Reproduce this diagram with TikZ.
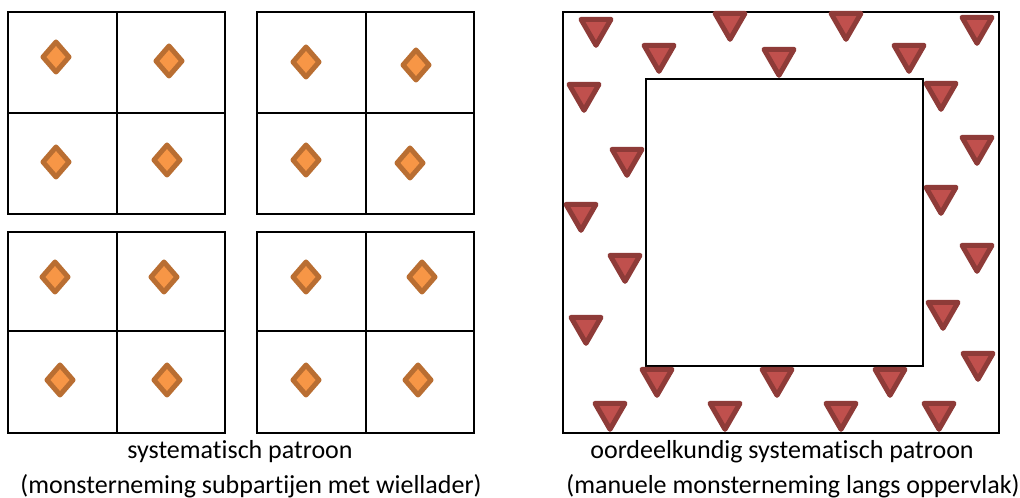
\documentclass[tikz,border=0pt]{standalone}
\usepackage{fontspec}
\setmainfont{Carlito}[Ligatures=NoCommon]
\usetikzlibrary{shapes.geometric}
\definecolor{dfill}{HTML}{F79646}
\definecolor{dline}{HTML}{B96E32}
\definecolor{tfill}{HTML}{C0504D}
\definecolor{tline}{HTML}{8E3B38}
\begin{document}
\begin{tikzpicture}[x=0.75pt,y=-0.75pt]
      \useasboundingbox (0,0) rectangle (1020,498);

      \begin{scope}[line width=1.5pt]
        % subpartijen
        \draw (8,12) rectangle (225,214);   \draw (117,12) -- (117,214);  \draw (8,113) -- (225,113);
        \draw (257,12) rectangle (474,214); \draw (366,12) -- (366,214);  \draw (257,113) -- (474,113);
        \draw (8,232) rectangle (225,433);  \draw (117,232) -- (117,433); \draw (8,331) -- (225,331);
        \draw (257,232) rectangle (474,433);\draw (366,232) -- (366,433); \draw (257,331) -- (474,331);
        % partij
        \draw (563,12) rectangle (999,433);
        \draw (646,79) rectangle (923,366);
      \end{scope}

      \begin{scope}[every node/.style={diamond, draw=dline, fill=dfill, line width=3.75pt,
          line join=round, inner sep=0pt, outer sep=0pt, minimum width=19.5pt, minimum height=22.5pt}]
        \node (d1)  at (56,57)   {};
        \node (d2)  at (169,61)  {};
        \node (d3)  at (56,162)  {};
        \node (d4)  at (167,160) {};
        \node (d5)  at (306,62)  {};
        \node (d6)  at (416,65)  {};
        \node (d7)  at (306,160) {};
        \node (d8)  at (410,163) {};
        \node (d9)  at (55,277)  {};
        \node (d10) at (164,277) {};
        \node (d11) at (60,380)  {};
        \node (d12) at (167,380) {};
        \node (d13) at (306,277) {};
        \node (d14) at (422,277) {};
        \node (d15) at (306,380) {};
        \node (d16) at (418,380) {};
      \end{scope}

      \begin{scope}[every node/.style={regular polygon, regular polygon sides=3, shape border rotate=180,
          draw=tline, fill=tfill, line width=3.75pt, line join=round, inner sep=0pt, outer sep=0pt,
          minimum size=26pt}]
        \node (t1)  at (596,28)  {};
        \node (t2)  at (659,54)  {};
        \node (t3)  at (730,22)  {};
        \node (t4)  at (779,58)  {};
        \node (t5)  at (846,22)  {};
        \node (t6)  at (909,54)  {};
        \node (t7)  at (977,26)  {};
        \node (t8)  at (584,93)  {};
        \node (t9)  at (941,92)  {};
        \node (t10) at (627,158) {};
        \node (t11) at (977,146) {};
        \node (t12) at (581,213) {};
        \node (t13) at (941,196) {};
        \node (t14) at (625,264) {};
        \node (t15) at (977,254) {};
        \node (t16) at (586,326) {};
        \node (t17) at (943,311) {};
        \node (t18) at (978,362) {};
        \node (t19) at (657,378) {};
        \node (t20) at (777,378) {};
        \node (t21) at (890,378) {};
        \node (t22) at (610,412) {};
        \node (t23) at (725,412) {};
        \node (t24) at (841,412) {};
        \node (t25) at (939,412) {};
      \end{scope}

      \begin{scope}[every node/.style={font=\fontsize{19.5pt}{23pt}\selectfont, inner sep=0pt}]
        \node (cap1a) at (240,452) {systematisch patroon};
        \node (cap1b) at (251,486) {(monsterneming subpartijen met wiellader)};
        \node (cap2a) at (782,452) {oordeelkundig systematisch patroon};
        \node (cap2b) at (793,486) {(manuele monsterneming langs oppervlak)};
      \end{scope}

    \end{tikzpicture}
\end{document}
